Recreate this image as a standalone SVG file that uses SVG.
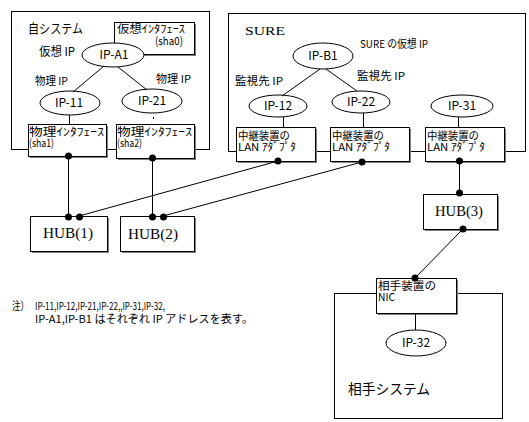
<svg xmlns="http://www.w3.org/2000/svg" width="529" height="422" viewBox="0 0 529 422">
<style>
.box{fill:#fff;stroke:#000;stroke-width:1}
.sh{fill:#808080}
.ell{fill:#fff;stroke:#000;stroke-width:1}
.ln{stroke:#000;stroke-width:1;fill:none}
.dot{fill:#000}
.t{font-family:"Noto Sans CJK JP","Noto Sans",sans-serif;font-size:11px;fill:#000}
.m{text-anchor:middle;font-size:12px}
.s{font-family:"Liberation Serif",serif;font-size:14px;fill:#000;text-anchor:middle}
</style>
<rect width="529" height="422" fill="#fff"/>
<g id="self-system">
<rect class="box" x="11.5" y="11.5" width="198" height="138"/>
<text class="t" x="28" y="33" style="font-size:13px" textLength="55" lengthAdjust="spacingAndGlyphs">自システム</text>
<text class="t" x="39" y="56" style="font-size:12px" textLength="36" lengthAdjust="spacingAndGlyphs">仮想 IP</text>
<text class="t" x="35" y="85" textLength="33" lengthAdjust="spacingAndGlyphs">物理 IP</text>
<text class="t" x="156" y="83" textLength="35" lengthAdjust="spacingAndGlyphs">物理 IP</text>
</g>
<g id="sure-system">
<rect class="box" x="228.5" y="13.5" width="297" height="138"/>
<text class="s" x="265" y="35" style="font-size:13px" textLength="40" lengthAdjust="spacingAndGlyphs">SURE</text>
<text class="t" x="360" y="48" textLength="68" lengthAdjust="spacingAndGlyphs">SURE の仮想 IP</text>
<text class="t" x="235" y="85" textLength="48" lengthAdjust="spacingAndGlyphs">監視先 IP</text>
<text class="t" x="357" y="80" textLength="48" lengthAdjust="spacingAndGlyphs">監視先 IP</text>
</g>
<g id="partner-system">
<rect class="box" x="334.5" y="293.5" width="168" height="125"/>
<text class="t" x="348" y="394" style="font-size:14px" textLength="82" lengthAdjust="spacingAndGlyphs">相手システム</text>
</g>
<g id="sha0">
<rect class="sh" x="116" y="24" width="80" height="32"/>
<rect class="box" x="114.5" y="22.5" width="80" height="32"/>
<text class="t" x="117" y="33" textLength="68" lengthAdjust="spacingAndGlyphs">仮想ｲﾝﾀﾌｪｰｽ</text>
<text class="t" x="155" y="45" textLength="28" lengthAdjust="spacingAndGlyphs">(sha0)</text>
</g>
<g id="ip-a1">
<ellipse class="ell" cx="113" cy="55" rx="31" ry="12"/>
<text class="t m" x="114" y="59">IP-A1</text>
</g>
<g id="ip-11">
<ellipse class="ell" cx="70" cy="103" rx="30" ry="12"/>
<text class="t m" x="69" y="107">IP-11</text>
</g>
<g id="ip-21">
<ellipse class="ell" cx="152" cy="101" rx="30" ry="12"/>
<text class="t m" x="152" y="105">IP-21</text>
</g>
<g id="sha1">
<rect class="sh" x="30" y="126" width="78" height="32"/>
<rect class="box" x="28.5" y="124.5" width="78" height="32"/>
<text class="t" x="29" y="136" textLength="75" lengthAdjust="spacingAndGlyphs">物理ｲﾝﾀﾌｪｰｽ</text>
<text class="t" x="29" y="147" textLength="25" lengthAdjust="spacingAndGlyphs">(sha1)</text>
</g>
<g id="sha2">
<rect class="sh" x="118" y="126" width="78" height="34"/>
<rect class="box" x="116.5" y="124.5" width="78" height="34"/>
<text class="t" x="117" y="136" textLength="75" lengthAdjust="spacingAndGlyphs">物理ｲﾝﾀﾌｪｰｽ</text>
<text class="t" x="117" y="147" textLength="25" lengthAdjust="spacingAndGlyphs">(sha2)</text>
</g>
<g id="ip-b1">
<ellipse class="ell" cx="323" cy="56" rx="30" ry="13"/>
<text class="t m" x="323" y="60">IP-B1</text>
</g>
<g id="ip-12">
<ellipse class="ell" cx="278" cy="106" rx="29" ry="11"/>
<text class="t m" x="278" y="110">IP-12</text>
</g>
<g id="ip-22">
<ellipse class="ell" cx="361" cy="102" rx="29" ry="11"/>
<text class="t m" x="361" y="106">IP-22</text>
</g>
<g id="ip-31">
<ellipse class="ell" cx="462" cy="106" rx="31" ry="11"/>
<text class="t m" x="462" y="110">IP-31</text>
</g>
<g id="lan1">
<rect class="sh" x="238" y="129" width="79" height="34"/>
<rect class="box" x="236.5" y="127.5" width="79" height="34"/>
<text class="t" x="238" y="140" textLength="52" lengthAdjust="spacingAndGlyphs">中継装置の</text>
<text class="t" x="238" y="151" textLength="58" lengthAdjust="spacingAndGlyphs">LAN ｱﾀﾞﾌﾟﾀ</text>
</g>
<g id="lan2">
<rect class="sh" x="332" y="129" width="79" height="34"/>
<rect class="box" x="330.5" y="127.5" width="79" height="34"/>
<text class="t" x="332" y="140" textLength="52" lengthAdjust="spacingAndGlyphs">中継装置の</text>
<text class="t" x="332" y="151" textLength="58" lengthAdjust="spacingAndGlyphs">LAN ｱﾀﾞﾌﾟﾀ</text>
</g>
<g id="lan3">
<rect class="sh" x="427" y="129" width="79" height="34"/>
<rect class="box" x="425.5" y="127.5" width="79" height="34"/>
<text class="t" x="427" y="140" textLength="52" lengthAdjust="spacingAndGlyphs">中継装置の</text>
<text class="t" x="427" y="151" textLength="58" lengthAdjust="spacingAndGlyphs">LAN ｱﾀﾞﾌﾟﾀ</text>
</g>
<g id="hub1">
<rect class="sh" x="32" y="218" width="77" height="35"/>
<rect class="box" x="30.5" y="216.5" width="77" height="35"/>
<text class="s" x="68" y="238" textLength="50" lengthAdjust="spacingAndGlyphs">HUB(1)</text>
</g>
<g id="hub2">
<rect class="sh" x="122" y="218" width="74" height="35"/>
<rect class="box" x="120.5" y="216.5" width="74" height="35"/>
<text class="s" x="153" y="239" textLength="50" lengthAdjust="spacingAndGlyphs">HUB(2)</text>
</g>
<g id="hub3">
<rect class="sh" x="425" y="196" width="74" height="35"/>
<rect class="box" x="423.5" y="194.5" width="74" height="35"/>
<text class="s" x="459" y="216" textLength="48" lengthAdjust="spacingAndGlyphs">HUB(3)</text>
</g>
<g id="nic">
<rect class="sh" x="378" y="280" width="80" height="35"/>
<rect class="box" x="376.5" y="278.5" width="80" height="35"/>
<text class="t" x="378" y="290" textLength="58" lengthAdjust="spacingAndGlyphs">相手装置の</text>
<text class="t" x="378" y="301" textLength="17" lengthAdjust="spacingAndGlyphs">NIC</text>
</g>
<g id="ip-32">
<ellipse class="ell" cx="416" cy="343" rx="30" ry="13"/>
<text class="t m" x="416" y="347">IP-32</text>
</g>
<g id="note">
<text class="t" x="12" y="310" textLength="17" lengthAdjust="spacingAndGlyphs">注）</text>
<text class="t" x="35" y="310" textLength="130" lengthAdjust="spacingAndGlyphs">IP-11,IP-12,IP-21,IP-22,,IP-31,IP-32,</text>
<text class="t" x="35" y="323" textLength="218" lengthAdjust="spacingAndGlyphs">IP-A1,IP-B1 はそれぞれ IP アドレスを表す。</text>
</g>
<g id="connectors">
<line class="ln" x1="104" y1="66" x2="73" y2="92"/>
<line class="ln" x1="118" y1="67" x2="147" y2="90"/>
<line class="ln" x1="69.5" y1="115" x2="69.5" y2="124"/>
<line class="ln" x1="153.5" y1="117" x2="153.5" y2="119"/>
<line class="ln" x1="320" y1="69" x2="282" y2="96"/>
<line class="ln" x1="326" y1="69" x2="357" y2="91"/>
<line class="ln" x1="283.5" y1="117" x2="283.5" y2="127"/>
<line class="ln" x1="363.5" y1="113" x2="363.5" y2="127"/>
<line class="ln" x1="458.5" y1="117" x2="458.5" y2="127"/>
<line class="ln" x1="68.5" y1="156" x2="68.5" y2="216"/>
<line class="ln" x1="152.5" y1="158" x2="152.5" y2="216"/>
<line class="ln" x1="278" y1="161" x2="79" y2="216"/>
<line class="ln" x1="362" y1="162" x2="163" y2="216"/>
<line class="ln" x1="459.5" y1="161" x2="459.5" y2="194"/>
<line class="ln" x1="463" y1="229" x2="415" y2="278"/>
<line class="ln" x1="415.5" y1="313" x2="415.5" y2="330"/>
<circle class="dot" cx="68.5" cy="156" r="3.5"/>
<circle class="dot" cx="152.5" cy="158" r="3.5"/>
<circle class="dot" cx="68.5" cy="217" r="3.5"/>
<circle class="dot" cx="79.5" cy="217" r="3.5"/>
<circle class="dot" cx="152.5" cy="217" r="3.5"/>
<circle class="dot" cx="163.5" cy="217" r="3.5"/>
<circle class="dot" cx="278" cy="161" r="3.5"/>
<circle class="dot" cx="362" cy="162" r="3.5"/>
<circle class="dot" cx="459.5" cy="161" r="3.5"/>
<circle class="dot" cx="459.5" cy="193" r="3.5"/>
<circle class="dot" cx="463" cy="229" r="3.5"/>
<circle class="dot" cx="415" cy="278" r="3.5"/>
</g>
</svg>
